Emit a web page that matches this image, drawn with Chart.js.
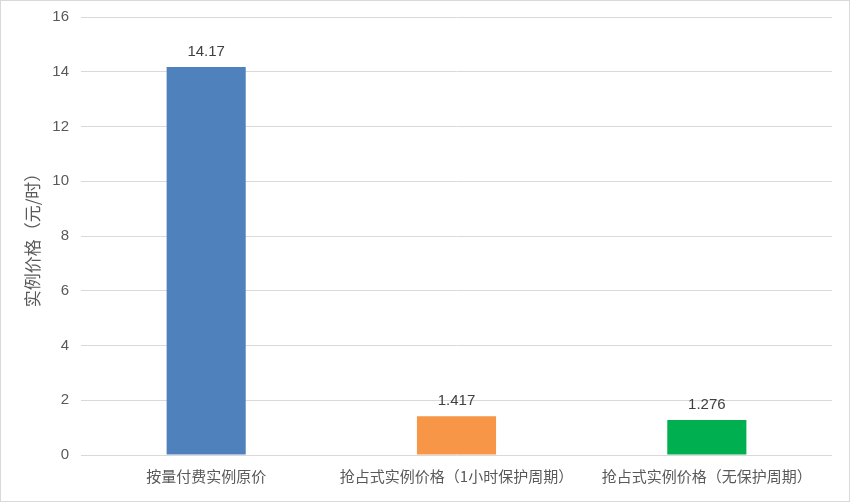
<!DOCTYPE html>
<html><head><meta charset="utf-8">
<script src="https://cdn.jsdelivr.net/npm/chart.js@4.4.1/dist/chart.umd.min.js"></script>
<style>
html,body{margin:0;padding:0;background:#fff;}
#wrap{width:850px;height:502px;position:relative;}
</style></head>
<body>
<div id="wrap"><canvas id="c" width="850" height="502"></canvas></div>
<script>
const categories = ["按量付费实例原价", "抢占式实例价格（1小时保护周期）", "抢占式实例价格（无保护周期）"];
const prices = [14.17, 1.417, 1.276];
const priceLabels = ["14.17", "1.417", "1.276"];
const barColors = ["#4F81BD", "#F79646", "#00B050"];
const yTicks = [0, 2, 4, 6, 8, 10, 12, 14, 16];
const yTitle = "实例价格（元/时）";

const borderPlugin = {
  id: 'outerBorder',
  afterDraw(chart) {
    const ctx = chart.ctx;
    ctx.save();
    ctx.strokeStyle = '#D9D9D9';
    ctx.lineWidth = 1;
    ctx.strokeRect(0.5, 0.5, chart.width - 1, chart.height - 1);
    ctx.restore();
  }
};
const labelPlugin = {
  id: 'valueLabels',
  afterDatasetsDraw(chart) {
    const ctx = chart.ctx;
    const meta = chart.getDatasetMeta(0);
    ctx.save();
    ctx.font = '15px "Liberation Sans", Arial, sans-serif';
    ctx.fillStyle = '#404040';
    ctx.textAlign = 'center';
    ctx.textBaseline = 'middle';
    meta.data.forEach((bar, i) => {
      ctx.fillText(priceLabels[i], bar.x, bar.y - 15);
    });
    ctx.restore();
  }
};

new Chart(document.getElementById('c'), {
  type: 'bar',
  data: {
    labels: categories,
    datasets: [{
      data: prices,
      backgroundColor: barColors,
      borderWidth: 0,
      categoryPercentage: 1.0,
      barPercentage: 0.316
    }]
  },
  options: {
    responsive: false,
    animation: false,
    devicePixelRatio: 1,
    layout: { padding: { left: 0, right: 18, top: 17, bottom: 0 } },
    plugins: { legend: { display: false }, tooltip: { enabled: false } },
    scales: {
      x: {
        grid: { display: false, drawTicks: false },
        border: { display: false },
        ticks: {
          color: '#595959',
          font: { family: '"Noto Sans CJK SC", sans-serif', size: 15 },
          padding: 12,
          maxRotation: 0, autoSkip: false
        },
        afterFit(scale) { scale.height = 47; scale.paddingLeft = 0; scale.paddingRight = 0; }
      },
      y: {
        min: 0, max: 16,
        afterBuildTicks(scale) { scale.ticks = yTicks.map(v => ({ value: v })); },
        grid: { color: '#D9D9D9', drawTicks: false, lineWidth: 1 },
        border: { display: false },
        ticks: {
          color: '#595959',
          font: { family: '"Liberation Sans", Arial, sans-serif', size: 15 },
          padding: 12
        },
        title: {
          display: true,
          text: yTitle,
          color: '#595959',
          font: { family: '"Noto Sans CJK SC", sans-serif', size: 17 },
          padding: { top: 22, bottom: 0 }
        },
        afterFit(scale) { scale.width = 81; scale.paddingTop = 0; scale.paddingBottom = 0; }
      }
    }
  },
  plugins: [borderPlugin, labelPlugin]
});
</script>
</body></html>
